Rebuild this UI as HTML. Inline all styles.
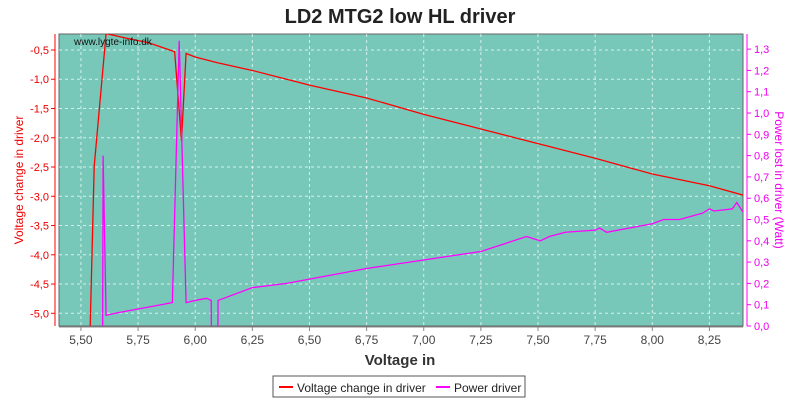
<!DOCTYPE html>
<html><head><meta charset="utf-8"><style>
body{margin:0;background:#fff;width:800px;height:400px;overflow:hidden;font-family:"Liberation Sans",sans-serif}
</style></head><body>
<svg id="chart" width="800" height="400" xmlns="http://www.w3.org/2000/svg" font-family="Liberation Sans, sans-serif">
<text x="400" y="23" text-anchor="middle" font-size="20" font-weight="bold" fill="#222">LD2 MTG2 low HL driver</text>
<defs><clipPath id="clip"><rect x="59" y="34" width="684" height="292"/></clipPath></defs>
<rect x="59" y="34" width="684" height="292" fill="#78c8b9" stroke="#666"/>
<g id="grid"></g><g id="axes"></g>
<g id="series" clip-path="url(#clip)"></g>
<text x="74" y="45" font-size="10" fill="#111">www.lygte-info.dk</text>
<text x="400" y="365" text-anchor="middle" font-size="15" font-weight="bold" fill="#333">Voltage in</text>
<text transform="translate(23,180) rotate(-90)" text-anchor="middle" font-size="12" fill="#e00">Voltage change in driver</text>
<text transform="translate(775,180) rotate(90)" text-anchor="middle" font-size="12" fill="#e0e">Power lost in driver (Watt)</text>
<g>
<rect x="273" y="376" width="252" height="21" fill="#fff" stroke="#555"/>
<line x1="279" y1="387" x2="293" y2="387" stroke="#f00" stroke-width="2"/>
<text x="297" y="392" font-size="12" fill="#222">Voltage change in driver</text>
<line x1="436" y1="387" x2="450" y2="387" stroke="#f0f" stroke-width="2"/>
<text x="454" y="392" font-size="12" fill="#222">Power driver</text>
</g>
</svg>
<script>
const xTicks=[5.5,5.75,6.0,6.25,6.5,6.75,7.0,7.25,7.5,7.75,8.0,8.25];
const yLeftTicks=[-0.5,-1.0,-1.5,-2.0,-2.5,-3.0,-3.5,-4.0,-4.5,-5.0];
const yRightTicks=[0,0.1,0.2,0.3,0.4,0.5,0.6,0.7,0.8,0.9,1.0,1.1,1.2,1.3];
const voltX=[5.54,5.558,5.61,5.70,5.80,5.91,5.94,5.96,6.0,6.1,6.25,6.4,6.5,6.75,7.0,7.25,7.5,7.75,8.0,8.25,8.397];
const voltY=[-5.3,-2.49,-0.22,-0.30,-0.38,-0.53,-2.05,-0.56,-0.62,-0.72,-0.85,-1.0,-1.1,-1.32,-1.6,-1.85,-2.1,-2.35,-2.62,-2.82,-2.98];
const powX=[5.595,5.597,5.61,5.65,5.70,5.75,5.80,5.85,5.90,5.93,5.96,6.0,6.05,6.07,6.071,6.099,6.10,6.15,6.25,6.4,6.5,6.75,7.0,7.25,7.45,7.51,7.55,7.62,7.75,7.77,7.80,7.9,8.0,8.05,8.12,8.22,8.25,8.27,8.35,8.37,8.397];
const powY=[-0.05,0.80,0.05,0.06,0.07,0.08,0.09,0.10,0.11,1.34,0.11,0.12,0.13,0.12,-0.05,-0.05,0.12,0.14,0.18,0.20,0.22,0.27,0.31,0.35,0.42,0.40,0.42,0.44,0.45,0.46,0.44,0.46,0.48,0.50,0.50,0.53,0.55,0.54,0.55,0.58,0.535];
const L=59,R=743,T=34,B=326;
const xMin=5.404,xMax=8.397,lMin=-5.217,lMax=-0.227,rMin=0,rMax=1.371;
const sx=v=>L+(v-xMin)/(xMax-xMin)*(R-L);
const syL=v=>B-(v-lMin)/(lMax-lMin)*(B-T);
const syR=v=>B-(v-rMin)/(rMax-rMin)*(B-T);
const NS="http://www.w3.org/2000/svg";
const mk=(t,a,p)=>{const e=document.createElementNS(NS,t);for(const k in a)e.setAttribute(k,a[k]);p.appendChild(e);return e;};
const grid=document.getElementById('grid'),axes=document.getElementById('axes'),ser=document.getElementById('series');
const fmt=(v,d)=>v.toFixed(d).replace('.',',');
xTicks.forEach(v=>{const x=sx(v);
 const g=mk('line',{x1:x,x2:x,y1:T,y2:B,stroke:'#fff','stroke-dasharray':'3,3','stroke-opacity':0.7},grid);
 
 
 mk('line',{x1:x,x2:x,y1:B+1,y2:B+5,stroke:'#888'},axes);
 const t=mk('text',{x:x,y:B+18,'text-anchor':'middle','font-size':12,fill:'#444'},axes);t.textContent=fmt(v,2);
 
 });
mk('line',{x1:L,x2:R,y1:B+1,y2:B+1,stroke:'#888'},axes);
yLeftTicks.forEach(v=>{const y=syL(v);
 const g=mk('line',{x1:L,x2:R,y1:y,y2:y,stroke:'#fff','stroke-dasharray':'3,3','stroke-opacity':0.7},grid);
 
 
 mk('line',{x1:51,x2:55,y1:y,y2:y,stroke:'#f00'},axes);
 const t=mk('text',{x:49,y:y+4,'text-anchor':'end','font-size':11,fill:'#e00'},axes);t.textContent=fmt(v,1);
 
 });
mk('line',{x1:55,x2:55,y1:T,y2:B,stroke:'#f00'},axes);
yRightTicks.forEach(v=>{const y=syR(v);
 mk('line',{x1:747,x2:751,y1:y,y2:y,stroke:'#f0f'},axes);
 const t=mk('text',{x:754,y:y+4,'font-size':11,fill:'#e0e'},axes);t.textContent=fmt(v,1);
 
 });
mk('line',{x1:747,x2:747,y1:T,y2:B,stroke:'#f0f'},axes);
const vl=mk('polyline',{points:voltX.map((x,i)=>sx(x)+','+syL(voltY[i])).join(' '),fill:'none',stroke:'#f00','stroke-width':1.3},ser);


const pl=mk('polyline',{points:powX.map((x,i)=>sx(x)+','+syR(powY[i])).join(' '),fill:'none',stroke:'#f0f','stroke-width':1.3},ser);


</script>
</body></html>
